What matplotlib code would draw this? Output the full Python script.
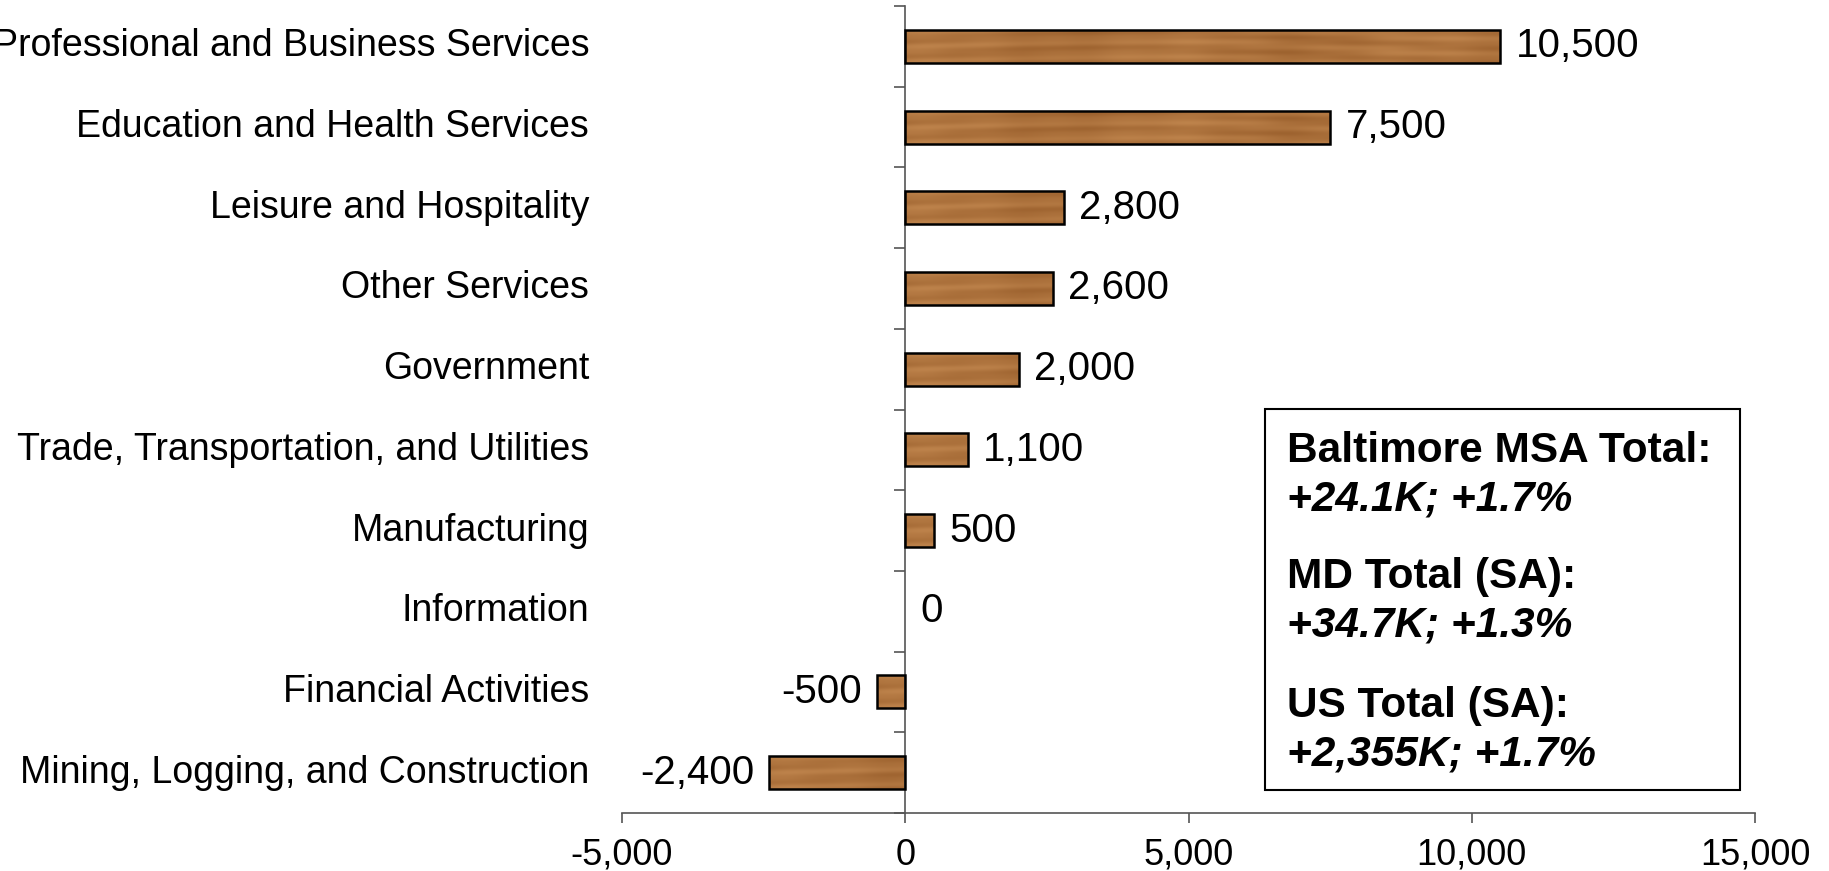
import numpy as np
import matplotlib.pyplot as plt
from matplotlib.patches import Rectangle
from matplotlib.transforms import blended_transform_factory

# job change by sector, listed top to bottom
categories = [
    "Professional and Business Services",
    "Education and Health Services",
    "Leisure and Hospitality",
    "Other Services",
    "Government",
    "Trade, Transportation, and Utilities",
    "Manufacturing",
    "Information",
    "Financial Activities",
    "Mining, Logging, and Construction",
]
changes = [10500, 7500, 2800, 2600, 2000, 1100, 500, 0, -500, -2400]
x_ticks = [-5000, 0, 5000, 10000, 15000]

box_heads = ["Baltimore MSA Total:", "MD Total (SA):", "US Total (SA):"]
box_values = ["+24.1K; +1.7%", "+34.7K; +1.3%", "+2,355K; +1.7%"]

plt.rcParams['font.family'] = ['Liberation Sans', 'DejaVu Sans']


def wood_texture(nx, ny=48):
    # soft brown grain built from a few slow sine waves
    xx = np.linspace(0, 1, nx)[None, :]
    yy = np.linspace(0, 1, ny)[:, None]
    grain = (0.45 * np.sin(2 * np.pi * (yy * 2.2 + 0.5 * np.sin(2 * np.pi * xx * 1.3)))
             + 0.30 * np.sin(2 * np.pi * xx * 4.7 + yy * 1.5)
             + 0.15 * np.sin(2 * np.pi * (yy * 4.5 + xx * 2.1))
             + 0.10 * np.sin(2 * np.pi * xx * 17.0))
    t = np.clip(0.5 + 0.4 * grain, 0, 1)[..., None]
    dark = np.array([0.60, 0.37, 0.17])
    light = np.array([0.76, 0.53, 0.31])
    return dark + (light - dark) * t


fig = plt.figure(figsize=(18.29, 8.71), dpi=100)
ax = fig.add_axes([0.3401, 0.0666, 0.6195, 0.9265])

y = np.arange(len(categories))
bar_h = 0.41
bars = ax.barh(y, changes, height=bar_h, color='#a8703c', linewidth=0, zorder=2)

span = x_ticks[-1] - x_ticks[0]
tex = wood_texture(1200)
for bar, v, yi in zip(bars, changes, y):
    if v == 0:
        continue
    n = max(2, int(abs(v) / span * tex.shape[1]))
    im = ax.imshow(tex[:, :n], extent=(min(0, v), max(0, v), yi + bar_h / 2, yi - bar_h / 2),
                   aspect='auto', zorder=2.5, interpolation='bilinear')
    im.set_clip_path(bar)

# outlines on top of the grain
outlines = ax.barh(y, changes, height=bar_h, fill=False, edgecolor='black',
                   linewidth=1.8, zorder=3)
for bar, v in zip(outlines, changes):
    if v == 0:
        bar.set_linewidth(0)

for v, yi in zip(changes, y):
    if v >= 0:
        ax.annotate(f"{v:,}", (v, yi), xytext=(11, 0), textcoords='offset points',
                    ha='left', va='center', fontsize=29)
    else:
        ax.annotate(f"{v:,}", (v, yi), xytext=(-11, 0), textcoords='offset points',
                    ha='right', va='center', fontsize=29)

ax.set_xlim(x_ticks[0], x_ticks[-1])
ax.set_ylim(len(categories) - 0.5, -0.5)

ax.set_xticks(x_ticks)
ax.set_xticklabels([f"{t:,}" for t in x_ticks])
ax.tick_params(axis='x', length=7, width=1.2, color='#555555', pad=11, labelsize=26)

# value axis sits at zero, with small ticks between categories
ax.spines['left'].set_position(('data', 0))
ax.set_yticks([])
ax.set_yticks(np.arange(-0.5, len(categories)), minor=True)
ax.tick_params(axis='y', which='minor', length=8, width=1.2, color='#555555')
ax.yaxis.set_minor_formatter(plt.NullFormatter())
for side in ['top', 'right']:
    ax.spines[side].set_visible(False)
for side in ['left', 'bottom']:
    ax.spines[side].set_color('#555555')
    ax.spines[side].set_linewidth(1.2)

trans = blended_transform_factory(ax.transAxes, ax.transData)
for cat, yi in zip(categories, y):
    ax.text(-0.029, yi, cat, transform=trans, ha='right', va='center', fontsize=27)

# summary box
fig.patches.append(Rectangle((0.6916, 0.0930), 0.2597, 0.4374, transform=fig.transFigure,
                             fill=False, edgecolor='black', linewidth=1.5))
head_y = [0.4696, 0.3249, 0.1768]
for head, val, hy in zip(box_heads, box_values, head_y):
    fig.text(0.7037, hy, head, fontsize=30.5, fontweight='bold', va='baseline')
    fig.text(0.7037, hy - 0.0560, val, fontsize=30.5, fontweight='bold', style='italic',
             va='baseline')

fig.savefig('out.png', dpi=100, facecolor='white')
